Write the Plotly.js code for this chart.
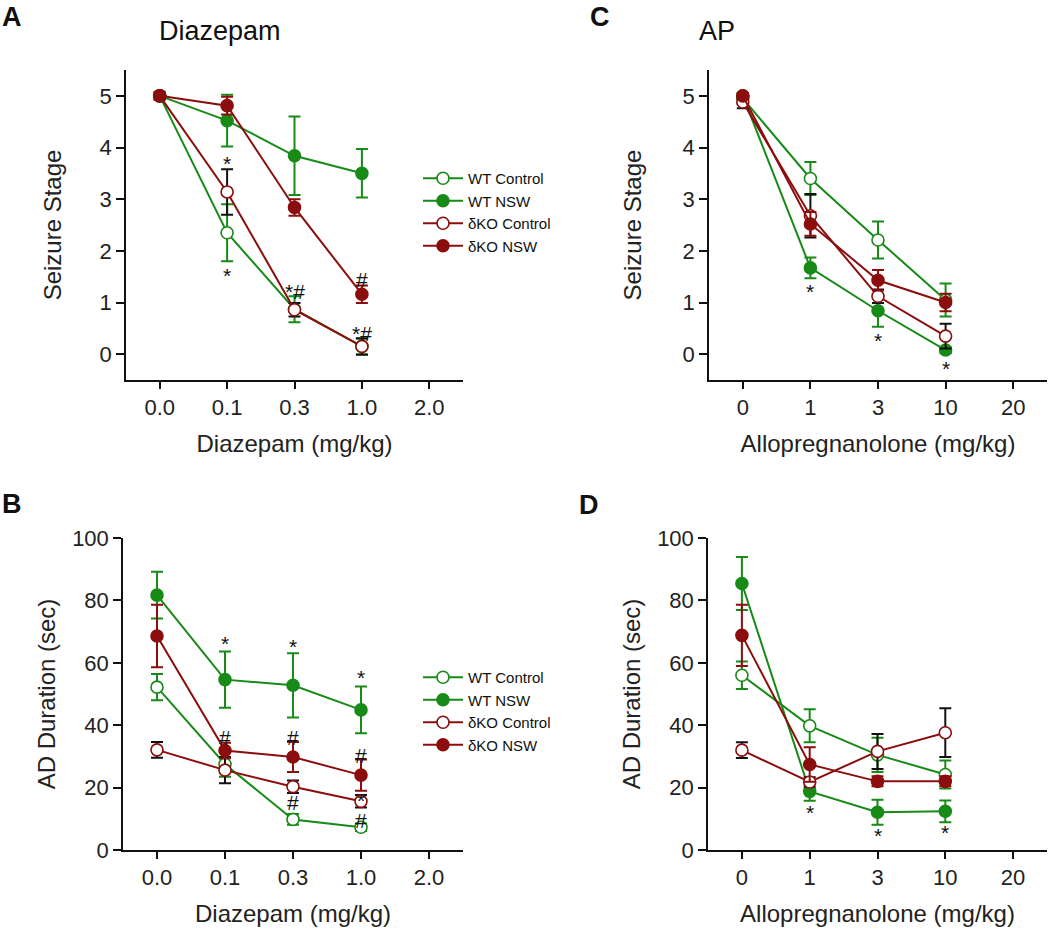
<!DOCTYPE html>
<html>
<head>
<meta charset="utf-8">
<script src="https://cdn.plot.ly/plotly-3.0.1.min.js"></script>
<style>body{margin:0;background:#fff}</style>
</head>
<body>
<div id="myPlot" style="width:1050px;height:929px"></div>
<script>
// doses (x categories)
var dzDoses = ['0.0', '0.1', '0.3', '1.0']
var dzTicks = ['0.0', '0.1', '0.3', '1.0', '2.0']
var apDoses = ['0', '1', '3', '10']
var apTicks = ['0', '1', '3', '10', '20']

var groups = ['WT Control', 'WT NSW', '\u03b4KO Control', '\u03b4KO NSW']

// A - Diazepam, seizure stage
var aWtCtl = [5, 2.35, 0.87, 0.15]
var aWtCtlErr = [0.05, 0.55, 0.25, 0.15]
var aWtNsw = [5, 4.52, 3.84, 3.5]
var aWtNswErr = [0.05, 0.5, 0.76, 0.47]
var aKoCtl = [5, 3.14, 0.86, 0.15]
var aKoCtlErr = [0.05, 0.44, 0.13, 0.16]
var aKoNsw = [5, 4.81, 2.84, 1.16]
var aKoNswErr = [0.08, 0.17, 0.16, 0.17]

// B - Diazepam, AD duration
var bWtCtl = [52.2, 27.5, 9.8, 7.3]
var bWtCtlErr = [4.2, 4, 1.7, 1.2]
var bWtNsw = [81.7, 54.6, 52.8, 44.9]
var bWtNswErr = [7.5, 9, 10.3, 7.5]
var bKoCtl = [32.1, 25.6, 20.3, 15.6]
var bKoCtlErr = [2.5, 4.2, 2, 2]
var bKoNsw = [68.6, 31.9, 29.8, 24.0]
var bKoNswErr = [10, 2.5, 4.8, 5]

// C - AP, seizure stage
var cWtCtl = [4.95, 3.4, 2.21, 1.05]
var cWtCtlErr = [0.1, 0.32, 0.36, 0.32]
var cWtNsw = [5, 1.67, 0.84, 0.08]
var cWtNswErr = [0.05, 0.2, 0.31, 0.06]
var cKoCtl = [4.88, 2.68, 1.12, 0.35]
var cKoCtlErr = [0.12, 0.42, 0.13, 0.24]
var cKoNsw = [5, 2.52, 1.43, 1.0]
var cKoNswErr = [0.05, 0.23, 0.2, 0.17]

// D - AP, AD duration
var dWtCtl = [56, 39.8, 30.5, 24.2]
var dWtCtlErr = [4.4, 5.3, 5.5, 4.5]
var dWtNsw = [85.4, 18.8, 12.1, 12.4]
var dWtNswErr = [8.5, 3, 4, 3.5]
var dKoCtl = [32, 21.8, 31.6, 37.6]
var dKoCtlErr = [2.5, 1.5, 5.6, 7.8]
var dKoNsw = [68.8, 27.4, 22.0, 22.0]
var dKoNswErr = [9.8, 5.5, 1.6, 1.6]

// significance marks [dose, y, text]
var aMarks = [['0.1', 3.76, '*'], ['0.1', 1.6, '*'], ['0.3', 1.3, '*#'], ['1.0', 1.52, '#'], ['1.0', 0.47, '*#']]
var bMarks = [['0.1', 67.6, '*'], ['0.3', 66.6, '*'], ['1.0', 56.6, '*'], ['0.1', 37.5, '#'], ['0.3', 37.3, '#'],
              ['1.0', 31.7, '#'], ['0.3', 16.6, '#'], ['1.0', 17, '*'], ['1.0', 10.6, '#']]
var cMarks = [['1', 1.3, '*'], ['3', 0.35, '*'], ['10', -0.2, '*']]
var dMarks = [['1', 13.3, '*'], ['3', 5.9, '*'], ['10', 7.0, '*']]

var green = '#178a17'
var red = '#8c0d0d'
var FONT = 'Arial, "Liberation Sans", sans-serif'
var lineColors = [green, green, red, red]
var fillColors = ['white', green, 'white', red]
var errColors = [green, green, '#111', red]

function panelTraces(doses, vals, errs, xa, ya, legendId) {
  var out = []
  for (var i = 0; i < vals.length; i++) {
    out.push({
      x: doses, y: vals[i], xaxis: xa, yaxis: ya,
      type: 'scatter', mode: 'lines+markers', name: groups[i],
      legend: legendId || 'legend', showlegend: !!legendId,
      line: {color: lineColors[i], width: 2},
      marker: {size: 12, color: fillColors[i], line: {color: lineColors[i], width: 1.6}},
      error_y: {type: 'data', array: errs[i], color: errColors[i], thickness: 2, width: 6},
      cliponaxis: false
    })
  }
  return out
}

var data = [].concat(
  panelTraces(dzDoses, [aWtCtl, aWtNsw, aKoCtl, aKoNsw], [aWtCtlErr, aWtNswErr, aKoCtlErr, aKoNswErr], 'x', 'y', 'legend'),
  panelTraces(dzDoses, [bWtCtl, bWtNsw, bKoCtl, bKoNsw], [bWtCtlErr, bWtNswErr, bKoCtlErr, bKoNswErr], 'x2', 'y2', 'legend2'),
  panelTraces(apDoses, [cWtCtl, cWtNsw, cKoCtl, cKoNsw], [cWtCtlErr, cWtNswErr, cKoCtlErr, cKoNswErr], 'x3', 'y3'),
  panelTraces(apDoses, [dWtCtl, dWtNsw, dKoCtl, dKoNsw], [dWtCtlErr, dWtNswErr, dKoCtlErr, dKoNswErr], 'x4', 'y4')
)

function xAxis(domain, anchor, ticks, title) {
  return {
    domain: domain, anchor: anchor, type: 'category',
    categoryorder: 'array', categoryarray: ticks, range: [-0.5, 4.5],
    showline: true, linecolor: '#111', linewidth: 1.5,
    ticks: 'outside', ticklen: 7, tickwidth: 1.5, tickcolor: '#111',
    showgrid: false, zeroline: false,
    tickfont: {family: FONT, size: 22, color: '#222'},
    title: {text: title, font: {family: FONT, size: 24, color: '#222'}, standoff: 16}
  }
}
function yAxis(domain, anchor, range, dtick, title, standoff) {
  return {
    domain: domain, anchor: anchor, range: range, tick0: 0, dtick: dtick,
    showline: true, linecolor: '#111', linewidth: 1.5,
    ticks: 'outside', ticklen: 8, tickwidth: 1.5, tickcolor: '#111',
    showgrid: false, zeroline: false,
    tickfont: {family: FONT, size: 22, color: '#222'},
    title: {text: title, font: {family: FONT, size: 24, color: '#222'}, standoff: standoff}
  }
}

// annotations on a category axis take the category's index
var annotations = []
function addMarks(marks, ticks, xa, ya) {
  marks.forEach(function (m) {
    annotations.push({x: ticks.indexOf(m[0]), y: m[1], xref: xa, yref: ya, text: m[2], showarrow: false,
      yshift: -4, font: {family: FONT, size: 21, color: '#111'}})
  })
}
addMarks(aMarks, dzTicks, 'x', 'y')
addMarks(bMarks, dzTicks, 'x2', 'y2')
addMarks(cMarks, apTicks, 'x3', 'y3')
addMarks(dMarks, apTicks, 'x4', 'y4')

function paperText(txt, px, py, size, bold) {
  annotations.push({x: px / 1050, y: 1 - py / 929, xref: 'paper', yref: 'paper', text: bold ? '<b>' + txt + '</b>' : txt,
    showarrow: false, xanchor: 'center', yanchor: 'middle', font: {family: FONT, size: size, color: '#111'}})
}
paperText('A', 12, 17, 27, true)
paperText('B', 12, 504, 27, true)
paperText('C', 600, 17, 27, true)
paperText('D', 589, 505, 27, true)
paperText('Diazepam', 220, 31, 27)
paperText('AP', 717, 31, 27)

var legendBase = {
  x: 418 / 1050, xanchor: 'left', yanchor: 'top', bgcolor: 'rgba(0,0,0,0)',
  font: {family: FONT, size: 15, color: '#111'}, itemwidth: 40, tracegroupgap: 0
}
var legend1 = Object.assign({}, legendBase, {y: 1 - 162 / 929})
var legend2 = Object.assign({}, legendBase, {y: 1 - 661 / 929})

var layout = {
  width: 1050, height: 929,
  margin: {l: 0, r: 0, t: 0, b: 0},
  paper_bgcolor: 'white', plot_bgcolor: 'white',
  font: {family: FONT, color: '#111'},
  xaxis: xAxis([126 / 1050, 463 / 1050], 'y', dzTicks, 'Diazepam (mg/kg)'),
  yaxis: yAxis([1 - 380 / 929, 1 - 70 / 929], 'x', [-0.5, 5.5], 1, 'Seizure Stage', 31),
  xaxis2: xAxis([123 / 1050, 463 / 1050], 'y2', dzTicks, 'Diazepam (mg/kg)'),
  yaxis2: yAxis([1 - 850 / 929, 1 - 538 / 929], 'x2', [0, 100], 20, 'AD Duration (sec)', 10),
  xaxis3: xAxis([709 / 1050, 1047 / 1050], 'y3', apTicks, 'Allopregnanolone (mg/kg)'),
  yaxis3: yAxis([1 - 380 / 929, 1 - 70 / 929], 'x3', [-0.5, 5.5], 1, 'Seizure Stage', 34),
  xaxis4: xAxis([708 / 1050, 1047 / 1050], 'y4', apTicks, 'Allopregnanolone (mg/kg)'),
  yaxis4: yAxis([1 - 850 / 929, 1 - 538 / 929], 'x4', [0, 100], 20, 'AD Duration (sec)', 10),
  legend: legend1,
  legend2: legend2,
  annotations: annotations
}

Plotly.newPlot('myPlot', data, layout, {displayModeBar: false})
</script>
</body>
</html>
